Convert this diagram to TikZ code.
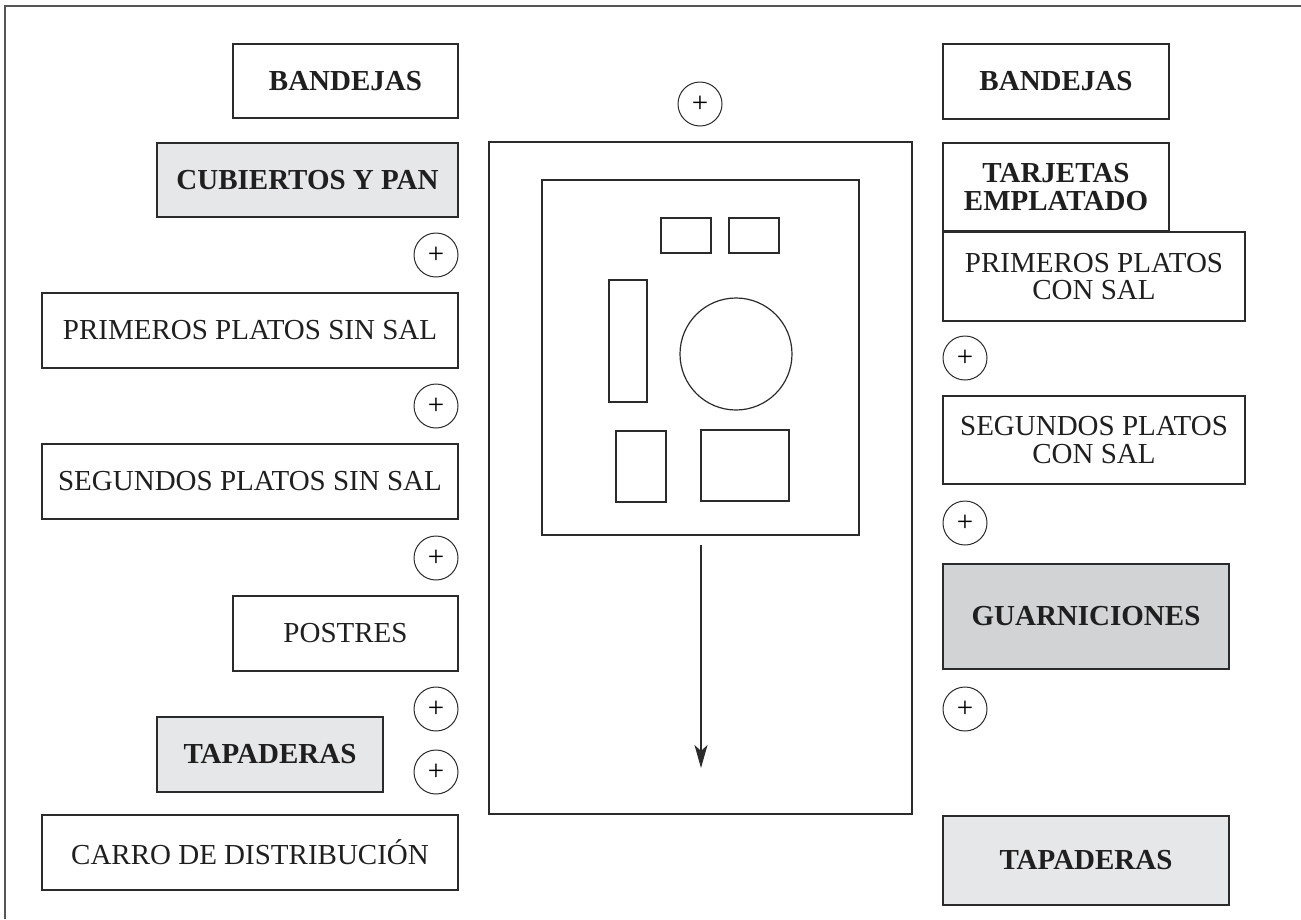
\documentclass[tikz,border=0pt]{standalone}
\usepackage{fontspec}
\setmainfont{Liberation Serif}
\usetikzlibrary{arrows.meta}
\definecolor{ln}{HTML}{2B2B2B}
\definecolor{fr}{HTML}{555555}
\definecolor{lgray}{HTML}{E6E7E8}
\definecolor{mgray}{HTML}{D1D3D4}
\begin{document}
\begin{tikzpicture}[x=1pt,y=-1pt,
  box/.style={draw=ln, line width=1.4pt, inner sep=0pt, align=center,
    font=\fontsize{29}{27.5}\selectfont, text=black!88},
  boldbox/.style={box, font=\fontsize{29}{27.5}\selectfont\bfseries},
  plus/.style={circle, draw=ln, line width=1pt, minimum size=44pt, inner sep=0pt,
    font=\fontsize{29}{29}\selectfont},
  part/.style={draw=ln, line width=1.2pt, inner sep=0pt},
  flow/.style={draw=ln, line width=1.2pt, -{Stealth[length=23pt,width=13pt,inset=6pt]}}]
\useasboundingbox (0,0) rectangle (1301,919);
\draw[fr, line width=1.6pt] (5,919) -- (5,6) -- (1301,6);

% left column
\node[boldbox, minimum width=225pt, minimum height=74pt] (lband) at (345.5,81) {BANDEJAS};
\node[boldbox, fill=lgray, minimum width=301pt, minimum height=74pt] (lcub) at (307.5,180) {CUBIERTOS Y PAN};
\node[plus] (p1) at (436,255) {+};
\node[box, minimum width=416pt, minimum height=75pt] (lprim) at (250,330.5) {PRIMEROS PLATOS SIN SAL};
\node[plus] (p2) at (436,406) {+};
\node[box, minimum width=416pt, minimum height=75pt] (lseg) at (250,481.5) {SEGUNDOS PLATOS SIN SAL};
\node[plus] (p3) at (436,558) {+};
\node[box, minimum width=225pt, minimum height=75pt] (lpos) at (345.5,633.5) {POSTRES};
\node[plus] (p4) at (436,709) {+};
\node[boldbox, fill=lgray, minimum width=226pt, minimum height=75pt] (ltap) at (270,754.5) {TAPADERAS};
\node[plus] (p5) at (436,772) {+};
\node[box, minimum width=416pt, minimum height=75pt] (lcarro) at (250,852.5) {CARRO DE DISTRIBUCIÓN};

% middle
\node[plus] (p0) at (700,104) {+};
\node[part, minimum width=423pt, minimum height=672pt] (outer) at (700.5,478) {};
\node[part, minimum width=317pt, minimum height=355pt] (inner) at (700.5,357.5) {};
\node[part, minimum width=50pt, minimum height=35pt] (r1) at (686,235.5) {};
\node[part, minimum width=50pt, minimum height=35pt] (r2) at (754,235.5) {};
\node[part, minimum width=38pt, minimum height=122pt] (r3) at (628,341) {};
\node[part, circle, minimum size=112pt] (plate) at (736,354) {};
\node[part, minimum width=50pt, minimum height=71pt] (r4) at (641,466.5) {};
\node[part, minimum width=88pt, minimum height=71pt] (r5) at (745,465.5) {};
\coordinate (a1) at (701,545);
\coordinate (a2) at (701,768);
\draw[flow] (a1) -- (a2);

% right column
\node[boldbox, minimum width=226pt, minimum height=75pt] (rband) at (1056,81.5) {BANDEJAS};
\node[boldbox, minimum width=226pt, minimum height=88pt] (rtarj) at (1056,187) {TARJETAS\\EMPLATADO};
\node[box, minimum width=302pt, minimum height=89pt] (rprim) at (1094,276.5) {PRIMEROS PLATOS\\CON SAL};
\node[plus] (q1) at (965,358) {+};
\node[box, minimum width=302pt, minimum height=88pt] (rseg) at (1094,440) {SEGUNDOS PLATOS\\CON SAL};
\node[plus] (q2) at (965,523) {+};
\node[boldbox, fill=mgray, minimum width=286pt, minimum height=105pt] (rguar) at (1086,616.5) {GUARNICIONES};
\node[plus] (q3) at (965,709) {+};
\node[boldbox, fill=lgray, minimum width=286pt, minimum height=89pt] (rtap) at (1086,860.5) {TAPADERAS};
\end{tikzpicture}
\end{document}
